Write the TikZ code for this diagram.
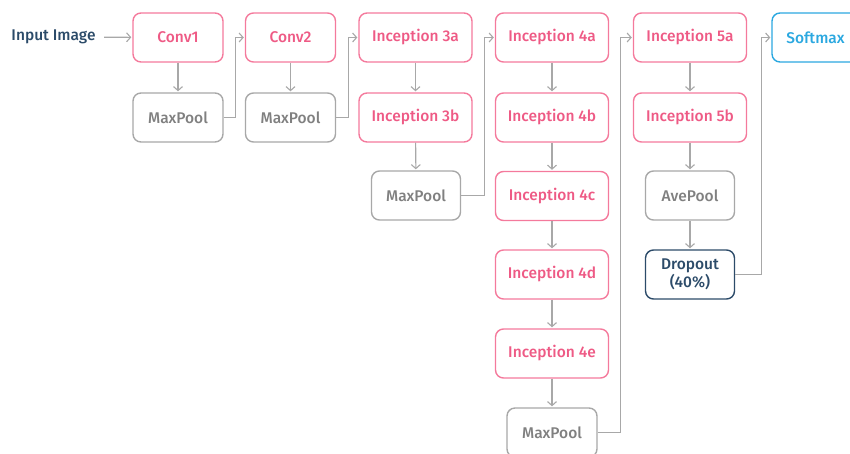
\documentclass[tikz,border=0pt]{standalone}
\usepackage{fontspec}
\setmainfont{Fira Sans}[BoldFont={Fira Sans Medium}]
\usetikzlibrary{arrows.meta}
\definecolor{pinkline}{HTML}{F47A9C}
\definecolor{pinktext}{HTML}{EE5A85}
\definecolor{grayline}{HTML}{A8A8A8}
\definecolor{graytext}{HTML}{808080}
\definecolor{arrowgray}{HTML}{A8A8A8}
\definecolor{navy}{HTML}{2C4B69}
\definecolor{skyblue}{HTML}{2BA8E0}

\begin{document}
\begin{tikzpicture}[x=1pt,y=-1pt,
    layer/.style={draw=pinkline, text=pinktext, rounded corners=8pt, line width=1.4pt,
        minimum height=49pt, minimum width=113pt, inner sep=0pt,
        font=\bfseries\fontsize{15.5}{18}\selectfont},
    pool/.style={layer, draw=grayline, text=graytext, minimum width=89pt},
    conn/.style={draw=arrowgray, line width=1.1pt, shorten >=1pt,
        -{Straight Barb[length=4pt,width=9pt]}}]
    \clip (0,0) rectangle (850,453);

        % first two stages
        \node[font=\bfseries\fontsize{15.5}{18}\selectfont, text=navy] (input) at (53.5,37) {Input Image};
        \node[layer, minimum width=90pt] (conv1) at (178,37.5) {Conv1};
        \node[pool, minimum width=90pt] (mp1) at (178,117.5) {MaxPool};
        \node[layer, minimum width=90pt] (conv2) at (290.5,37.5) {Conv2};
        \node[pool, minimum width=90pt] (mp2) at (290.5,117.5) {MaxPool};

        % inception 3
        \node[layer] (i3a) at (415.5,37.5) {Inception 3a};
        \node[layer] (i3b) at (415.5,117.5) {Inception 3b};
        \node[pool] (mp3) at (416,195.5) {MaxPool};

        % inception 4
        \node[layer] (i4a) at (552,37.5) {Inception 4a};
        \node[layer] (i4b) at (552,117.5) {Inception 4b};
        \node[layer] (i4c) at (552,196) {Inception 4c};
        \node[layer] (i4d) at (552,274.5) {Inception 4d};
        \node[layer] (i4e) at (552,353.5) {Inception 4e};
        \node[pool, minimum width=90pt] (mp4) at (552,432.5) {MaxPool};

        % inception 5 and output
        \node[layer] (i5a) at (690,37.5) {Inception 5a};
        \node[layer] (i5b) at (690,117.5) {Inception 5b};
        \node[pool] (avg) at (690,195.5) {AvePool};
        \node[pool, draw=navy, text=navy, align=center] (drop) at (690,274.5) {Dropout\\(40\%)};
        \node[layer, draw=skyblue, text=skyblue, minimum width=87pt] (soft) at (815.5,37.5) {Softmax};

        \draw[conn, shorten <=5pt] (input) -- (conv1);
        \draw[conn] (conv1) -- (mp1);
        \draw[conn] (mp1.east) -- ++(12,0) |- (conv2.west);
        \draw[conn] (conv2) -- (mp2);
        \draw[conn] (mp2.east) -- ++(12,0) |- (i3a.west);
        \draw[conn] (i3a) -- (i3b);
        \draw[conn] (i3b) -- (mp3);
        \draw[conn] (mp3.east) -- ++(23,0) |- (i4a.west);
        \draw[conn] (i4a) -- (i4b);
        \draw[conn] (i4b) -- (i4c);
        \draw[conn] (i4c) -- (i4d);
        \draw[conn] (i4d) -- (i4e);
        \draw[conn] (i4e) -- (mp4);
        \draw[conn] (mp4.east) -- ++(23,0) |- (i5a.west);
        \draw[conn] (i5a) -- (i5b);
        \draw[conn] (i5b) -- (avg);
        \draw[conn] (avg) -- (drop);
        \draw[conn] (drop.east) -- ++(26,0) |- (soft.west);
\end{tikzpicture}
\end{document}
